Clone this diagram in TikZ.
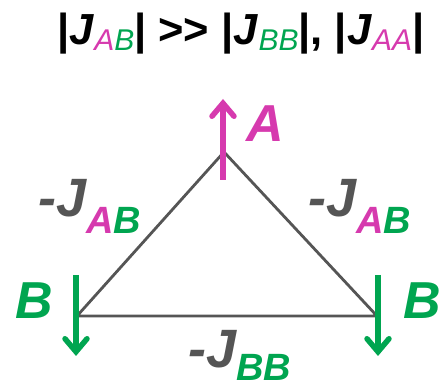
\documentclass[tikz,border=0pt]{standalone}
\usepackage{fontspec}
\setmainfont{Liberation Sans}
\usetikzlibrary{arrows.meta}
\definecolor{mag}{HTML}{D63AAE}
\definecolor{grn}{HTML}{00A550}
\definecolor{edgegray}{HTML}{555555}
\newcommand{\bsub}[3][17pt]{\raisebox{-#1}{\fontsize{38}{38}\selectfont\bfseries\itshape #2#3}}
\newcommand{\tsub}[2]{\raisebox{-6pt}{\fontsize{30}{30}\selectfont\mdseries\itshape #1#2}}
\begin{document}
\begin{tikzpicture}[x=1pt,y=1pt,
  spin/.style={line width=5.5pt,-{Straight Barb[length=13pt,width=22pt,line cap=round]}},
  bond/.style={edgegray,line width=2.8pt,line join=round},
  big/.style={font=\fontsize{52}{52}\selectfont\bfseries\itshape,inner sep=0pt},
  bondlbl/.style={font=\fontsize{54}{54}\selectfont\bfseries\itshape,inner sep=0pt,anchor=base west},
  title/.style={font=\fontsize{43.5}{43.5}\selectfont\bfseries,inner sep=0pt,anchor=base west}]
\useasboundingbox (0,0) rectangle (445,391);
% vertices
\coordinate (T) at (224,239);
\coordinate (L) at (77,75);
\coordinate (R) at (377,75);
\draw[bond] (L) -- (T) -- (R) -- cycle;
% spins
\coordinate (As) at (223,211);
\coordinate (Ae) at (223,292);
\draw[spin,mag] (As) -- (Ae);
\coordinate (Bls) at (76,116);
\coordinate (Ble) at (76,35);
\draw[spin,grn] (Bls) -- (Ble);
\coordinate (Brs) at (378,116);
\coordinate (Bre) at (378,35);
\draw[spin,grn] (Brs) -- (Bre);
% spin labels
\node[big,text=mag] (lA) at (265,267) {A};
\node[big,text=grn] (lBl) at (34,90) {B};
\node[big,text=grn] (lBr) at (422,90) {B};
% bond labels
\node[bondlbl] (jl) at (38,174) {{\color{edgegray}-J}\bsub{\color{mag}A}{\color{grn}B}};
\node[bondlbl] (jr) at (308,174) {{\color{edgegray}-J}\bsub{\color{mag}A}{\color{grn}B}};
\node[bondlbl] (jb) at (188,23) {{\color{edgegray}-J}\bsub[13pt]{\color{grn}B}{\color{grn}B}};
% title
\node[title] (ttl) at (57,346) {|\textit{J}\tsub{\color{mag}A}{\color{grn}B}| >{}> |\textit{J}\tsub{\color{grn}B}{\color{grn}B}|, |\textit{J}\tsub{\color{mag}A}{\color{mag}A}|};
\end{tikzpicture}
\end{document}
